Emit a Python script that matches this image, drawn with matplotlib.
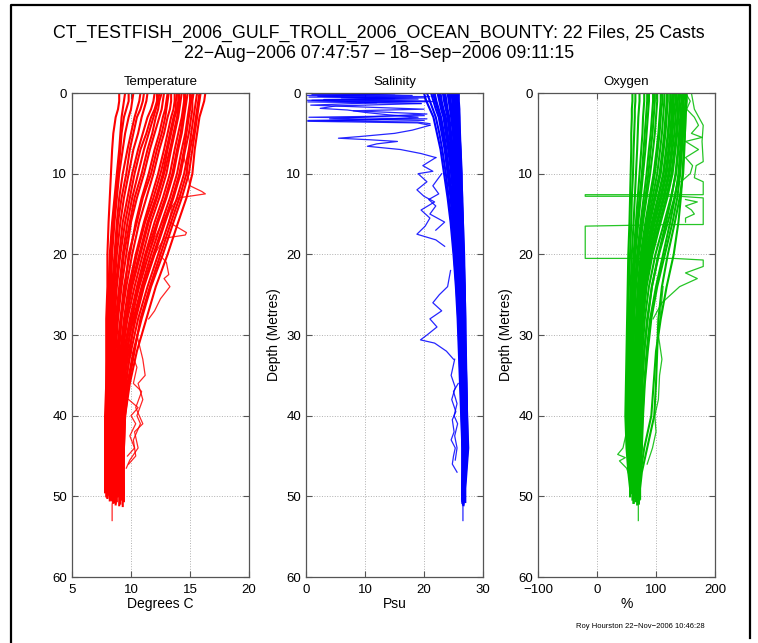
import matplotlib
matplotlib.use('Agg')
import matplotlib.pyplot as plt
from matplotlib.lines import Line2D

plt.rcParams['font.family'] = ['Liberation Sans', 'DejaVu Sans']

# depth levels (m) shared by the main casts
depth = [0, 1, 2, 3, 5, 7, 10, 13, 16, 20, 24, 28, 32, 36, 40, 44, 47, 49]

# ---- temperature (deg C) ----
temp_casts = [
    [9.0, 9.0, 8.9, 8.7, 8.5, 8.4, 8.3, 8.2, 8.1, 8.0, 8.0, 7.9, 7.9, 7.9, 7.8, 7.8, 7.8, 7.8],
    [9.5, 9.4, 9.3, 9.2, 9.1, 9.0, 8.8, 8.6, 8.4, 8.2, 8.1, 8.0, 8.0, 7.9, 7.9, 7.9, 7.9, 7.9],
    [10.2, 10.1, 10.0, 9.8, 9.5, 9.3, 9.0, 8.8, 8.6, 8.4, 8.3, 8.2, 8.1, 8.0, 8.0, 8.0, 8.0, 8.0],
    [10.8, 10.7, 10.5, 10.3, 10.0, 9.7, 9.3, 9.0, 8.8, 8.6, 8.4, 8.3, 8.2, 8.1, 8.1, 8.0, 8.0, 8.1],
    [11.4, 11.3, 11.1, 10.9, 10.6, 10.2, 9.8, 9.4, 9.1, 8.8, 8.6, 8.4, 8.3, 8.2, 8.2, 8.1, 8.1, 8.2],
    [12.0, 11.9, 11.7, 11.4, 11.0, 10.6, 10.1, 9.7, 9.3, 9.0, 8.7, 8.5, 8.4, 8.3, 8.2, 8.2, 8.2, 8.3],
    [12.4, 12.3, 12.1, 11.9, 11.5, 11.1, 10.6, 10.1, 9.7, 9.3, 9.0, 8.7, 8.5, 8.4, 8.3, 8.3, 8.3, 8.4],
    [12.8, 12.7, 12.6, 12.4, 12.0, 11.6, 11.1, 10.5, 10.0, 9.6, 9.2, 8.9, 8.7, 8.5, 8.4, 8.4, 8.4, 8.5],
    [13.1, 13.0, 12.9, 12.7, 12.4, 12.0, 11.5, 10.9, 10.4, 9.9, 9.4, 9.1, 8.8, 8.6, 8.5, 8.5, 8.5, 8.5],
    [13.4, 13.4, 13.3, 13.1, 12.8, 12.4, 11.9, 11.3, 10.7, 10.1, 9.6, 9.2, 8.9, 8.7, 8.6, 8.5, 8.5, 8.6],
    [13.7, 13.7, 13.6, 13.4, 13.1, 12.8, 12.3, 11.7, 11.1, 10.4, 9.8, 9.4, 9.1, 8.8, 8.7, 8.6, 8.6, 8.7],
    [14.0, 14.0, 13.9, 13.7, 13.4, 13.1, 12.7, 12.1, 11.4, 10.7, 10.0, 9.5, 9.2, 8.9, 8.8, 8.7, 8.7, 8.8],
    [14.3, 14.2, 14.1, 14.0, 13.7, 13.4, 13.0, 12.4, 11.7, 11.0, 10.3, 9.7, 9.3, 9.0, 8.9, 8.8, 8.8, 8.9],
    [14.5, 14.5, 14.4, 14.3, 14.0, 13.7, 13.3, 12.7, 12.0, 11.2, 10.5, 9.9, 9.4, 9.1, 9.0, 8.9, 8.9, 9.0],
    [14.8, 14.7, 14.6, 14.5, 14.3, 14.0, 13.6, 13.0, 12.3, 11.5, 10.7, 10.0, 9.5, 9.2, 9.0, 9.0, 9.0, 9.1],
    [15.0, 15.0, 14.9, 14.8, 14.6, 14.3, 13.9, 13.3, 12.6, 11.7, 10.9, 10.2, 9.6, 9.3, 9.1, 9.1, 9.1, 9.2],
    [15.3, 15.2, 15.2, 15.1, 14.9, 14.6, 14.2, 13.6, 12.9, 12.0, 11.1, 10.4, 9.8, 9.4, 9.2, 9.2, 9.2, 9.3],
    [15.6, 15.5, 15.4, 15.3, 15.1, 14.9, 14.5, 13.9, 13.2, 12.3, 11.4, 10.6, 10.0, 9.5, 9.3, 9.3, 9.3, 9.3],
    [15.9, 15.8, 15.7, 15.6, 15.4, 15.2, 14.9, 14.3, 13.6, 12.7, 11.7, 10.9, 10.2, 9.7, 9.4, 9.3, 9.3, 9.4],
    [16.3, 16.2, 16.0, 15.8, 15.6, 15.4, 15.2, 14.7, 14.0, 13.1, 12.1, 11.3, 10.5, 9.9, 9.5, 9.4, 9.4, 9.4],
    [9.8, 9.8, 9.6, 9.4, 9.2, 9.1, 8.9, 8.7, 8.5, 8.3, 8.2, 8.1, 8.0, 8.0, 7.9, 7.9, 8.0, 8.0],
    [11.1, 11.0, 10.8, 10.5, 10.2, 9.9, 9.6, 9.2, 8.9, 8.7, 8.5, 8.4, 8.3, 8.2, 8.1, 8.1, 8.1, 8.2],
    [12.2, 12.2, 12.0, 11.7, 11.3, 10.8, 10.3, 9.9, 9.5, 9.1, 8.8, 8.6, 8.5, 8.4, 8.3, 8.2, 8.3, 8.3],
    [13.2, 13.1, 13.0, 12.9, 12.6, 12.2, 11.7, 11.0, 10.5, 9.8, 9.5, 9.2, 9.0, 8.8, 8.6, 8.6, 8.6, 8.6],
    [13.9, 13.8, 13.8, 13.6, 13.3, 13.0, 12.5, 11.9, 11.2, 10.5, 9.9, 9.6, 9.3, 9.0, 8.9, 8.8, 8.8, 8.8],
    [14.6, 14.6, 14.5, 14.4, 14.2, 13.9, 13.5, 12.9, 12.2, 11.3, 10.6, 10.1, 9.7, 9.4, 9.2, 9.1, 9.0, 9.0],
    [15.2, 15.1, 15.0, 14.9, 14.7, 14.5, 14.1, 13.5, 12.8, 11.9, 11.0, 10.3, 9.9, 9.6, 9.4, 9.3, 9.2, 9.2],
    [15.8, 15.7, 15.6, 15.5, 15.3, 15.0, 14.7, 14.1, 13.4, 12.5, 11.6, 10.8, 10.3, 9.8, 9.5, 9.4, 9.3, 9.3],
    [12.6, 12.4, 12.3, 12.1, 11.8, 11.4, 10.9, 10.3, 9.9, 9.4, 9.1, 8.8, 8.6, 8.5, 8.4, 8.3, 8.3, 8.4],
    [14.1, 14.1, 14.0, 13.9, 13.6, 13.3, 12.8, 12.2, 11.5, 10.8, 10.1, 9.6, 9.2, 9.0, 8.8, 8.7, 8.7, 8.7],
]
temp_bottom = [49.5, 50.0, 50.2, 49.8, 50.5, 49.6, 50.1, 50.8, 49.9, 50.3, 51.0, 50.6, 50.0, 49.7, 50.9,
               50.4, 51.2, 50.2, 49.8, 50.6, 50.1, 49.9, 50.4, 50.7, 50.0, 51.1, 50.3, 49.6, 50.5, 50.8]
temp_extra_d = [
    [8, 10, 11.5, 12.2, 12.5, 13, 15, 18, 22],
    [14, 16, 17.3, 17.6, 18, 20],
    [20, 21, 22.5, 23, 24, 25.5, 27, 28],
    [30, 33, 35, 36, 38, 40, 41, 43, 45, 46],
    [32, 34, 36, 37, 39, 41, 42, 44, 45.5, 46.5],
    [38, 39, 40, 41, 42.5, 44, 45],
    [48, 50, 51, 53],
]
temp_extra_v = [
    [14.5, 14.8, 15.0, 16.0, 16.3, 14.0, 13.0, 12.0, 11.0],
    [13.5, 13.2, 14.7, 14.6, 12.8, 12.0],
    [12.4, 13.0, 13.2, 12.8, 13.3, 12.5, 12.0, 11.5],
    [10.5, 11.0, 11.2, 10.6, 11.0, 10.5, 10.8, 10.2, 10.4, 9.8],
    [10.0, 10.5, 10.2, 10.9, 10.4, 11.0, 10.3, 10.6, 9.9, 9.6],
    [9.8, 10.6, 10.0, 10.4, 9.9, 10.3, 9.7],
    [8.6, 8.5, 8.4, 8.4],
]

# ---- salinity (psu) ----
sal_casts = [
    [25.9, 25.9, 26.0, 26.0, 26.1, 26.2, 26.3, 26.5, 26.6, 26.8, 26.9, 27.0, 27.1, 27.2, 27.3, 27.4, 27.1, 26.9],
    [25.7, 25.8, 25.8, 25.9, 26.0, 26.1, 26.2, 26.4, 26.5, 26.7, 26.8, 26.9, 27.0, 27.1, 27.2, 27.3, 27.0, 26.9],
    [25.5, 25.5, 25.6, 25.7, 25.8, 25.9, 26.1, 26.3, 26.4, 26.6, 26.7, 26.8, 26.9, 27.0, 27.1, 27.2, 27.0, 26.8],
    [25.2, 25.3, 25.4, 25.5, 25.6, 25.8, 26.0, 26.2, 26.3, 26.5, 26.6, 26.7, 26.8, 26.9, 27.0, 27.1, 26.9, 26.8],
    [25.0, 25.1, 25.2, 25.3, 25.5, 25.7, 25.9, 26.1, 26.2, 26.4, 26.5, 26.6, 26.8, 26.9, 27.0, 27.0, 26.9, 26.8],
    [24.7, 24.8, 24.9, 25.1, 25.3, 25.5, 25.7, 25.9, 26.1, 26.3, 26.4, 26.6, 26.7, 26.8, 26.9, 27.0, 26.8, 26.7],
    [24.4, 24.5, 24.7, 24.9, 25.1, 25.3, 25.6, 25.8, 26.0, 26.2, 26.3, 26.5, 26.6, 26.7, 26.8, 26.9, 26.8, 26.7],
    [24.0, 24.2, 24.4, 24.6, 24.9, 25.1, 25.4, 25.7, 25.9, 26.1, 26.3, 26.4, 26.6, 26.7, 26.8, 26.9, 26.8, 26.7],
    [23.6, 23.8, 24.0, 24.3, 24.6, 24.9, 25.2, 25.5, 25.8, 26.0, 26.2, 26.4, 26.5, 26.6, 26.7, 26.8, 26.7, 26.6],
    [23.2, 23.4, 23.7, 24.0, 24.3, 24.6, 25.0, 25.4, 25.7, 25.9, 26.1, 26.3, 26.5, 26.6, 26.7, 26.8, 26.7, 26.6],
    [22.8, 23.0, 23.3, 23.7, 24.0, 24.4, 24.8, 25.2, 25.5, 25.8, 26.0, 26.2, 26.4, 26.5, 26.6, 26.7, 26.7, 26.6],
    [22.3, 22.6, 22.9, 23.3, 23.7, 24.1, 24.6, 25.0, 25.3, 25.7, 25.9, 26.1, 26.3, 26.4, 26.6, 26.7, 26.6, 26.6],
    [21.8, 22.1, 22.5, 22.9, 23.4, 23.8, 24.3, 24.8, 25.1, 25.5, 25.8, 26.0, 26.2, 26.4, 26.5, 26.6, 26.6, 26.5],
    [21.2, 21.6, 22.0, 22.5, 23.0, 23.5, 24.0, 24.5, 24.9, 25.3, 25.6, 25.9, 26.1, 26.3, 26.4, 26.6, 26.6, 26.5],
    [20.5, 21.0, 21.5, 22.0, 22.6, 23.1, 23.7, 24.2, 24.7, 25.1, 25.5, 25.8, 26.0, 26.2, 26.4, 26.5, 26.5, 26.5],
    [20.0, 20.4, 21.0, 21.6, 22.2, 22.8, 23.4, 24.0, 24.5, 25.0, 25.4, 25.7, 25.9, 26.1, 26.3, 26.5, 26.5, 26.5],
    [25.8, 25.7, 25.9, 26.0, 26.0, 26.2, 26.4, 26.4, 26.6, 26.7, 26.9, 27.0, 27.0, 27.2, 27.3, 27.5, 27.2, 27.0],
    [25.4, 25.4, 25.6, 25.6, 25.8, 26.0, 26.1, 26.2, 26.4, 26.6, 26.8, 26.8, 27.0, 27.1, 27.2, 27.3, 27.0, 26.9],
    [25.1, 25.2, 25.3, 25.4, 25.7, 25.8, 26.0, 26.2, 26.4, 26.5, 26.7, 26.7, 26.9, 27.0, 27.1, 27.1, 26.9, 26.8],
    [24.8, 24.9, 25.1, 25.2, 25.4, 25.6, 25.8, 26.0, 26.2, 26.4, 26.6, 26.7, 26.8, 26.9, 27.0, 27.0, 26.9, 26.7],
    [24.2, 24.4, 24.6, 24.8, 25.0, 25.2, 25.5, 25.8, 26.0, 26.2, 26.4, 26.5, 26.7, 26.8, 26.9, 26.9, 26.8, 26.7],
    [23.4, 23.6, 23.9, 24.1, 24.5, 24.8, 25.1, 25.5, 25.8, 26.0, 26.2, 26.4, 26.5, 26.7, 26.8, 26.8, 26.7, 26.6],
    [22.5, 22.8, 23.1, 23.5, 23.9, 24.3, 24.7, 25.1, 25.4, 25.8, 26.0, 26.2, 26.4, 26.5, 26.6, 26.7, 26.6, 26.6],
    [21.5, 21.9, 22.3, 22.7, 23.2, 23.7, 24.2, 24.6, 25.0, 25.4, 25.7, 26.0, 26.2, 26.3, 26.5, 26.6, 26.6, 26.5],
]
sal_bottom = [50.2, 49.8, 50.6, 50.0, 49.5, 50.9, 50.3, 49.7, 50.5, 51.0, 50.1, 49.6, 50.4, 50.8, 49.9,
              50.2, 50.7, 50.0, 49.8, 50.5, 51.1, 50.3, 49.9, 50.6]
sal_extra_d = [
    [0.0, 0.2, 0.3, 0.5, 0.6, 0.8, 1.0, 1.1, 1.3],
    [0.1, 0.3, 0.45, 0.6, 0.75, 0.9, 1.05, 1.2],
    [0.0, 0.4, 0.7, 0.9, 1.2, 1.5, 2.0, 2.2, 2.6, 3.2, 3.4],
    [1.3, 1.6, 1.9, 2.1, 2.4, 2.7, 3.0, 3.3, 3.5, 3.7, 4.0],
    [2.8, 3.0, 3.2, 3.4, 3.6, 3.8],
    [4.0, 4.6, 5.0, 5.4, 5.6, 5.8, 6.0, 6.3, 6.6, 7.0, 7.5, 8.0],
    [8, 9, 9.7, 10, 11, 12, 12.8, 13.5, 14.5, 15.5, 16.5, 17.5, 18.2, 19],
    [10, 11.5, 12.5, 13.2, 14, 15, 16, 17],
    [22, 24, 25, 26, 27, 28, 29, 30, 30.6, 31, 32, 33],
    [33, 35, 36.5, 38, 39.5, 40.5, 42, 43, 44, 45, 46, 47],
    [36, 37, 38.5, 40, 41, 42.5, 44, 45.5],
    [48, 50, 51.5, 53],
]
sal_extra_v = [
    [22.0, 1.0, 18.0, 0.5, 20.0, 3.0, 21.0, 0.3, 19.5],
    [15.0, 0.2, 21.0, 6.0, 19.0, 0.2, 22.0, 10.0],
    [18.0, 2.0, 15.0, 1.0, 12.0, 0.8, 20.0, 8.0, 20.5, 4.0, 20.0],
    [19.5, 5.0, 2.4, 7.0, 10.0, 14.0, 19.0, 12.0, 0.3, 18.9, 21.0],
    [20.0, 0.5, 20.5, 0.3, 19.0, 21.0],
    [21.0, 18.0, 15.0, 9.0, 5.5, 11.0, 15.5, 12.0, 10.4, 16.0, 19.5, 22.0],
    [22.0, 19.8, 21.5, 19.0, 20.5, 18.8, 20.0, 21.8, 19.5, 21.0, 20.2, 18.8, 22.0, 23.5],
    [23.0, 21.5, 22.5, 20.8, 22.0, 21.0, 23.5, 22.0],
    [24.5, 24.0, 22.6, 21.5, 23.0, 21.0, 22.2, 20.5, 19.4, 21.8, 23.8, 25.0],
    [25.2, 24.6, 25.3, 24.7, 25.4, 24.8, 25.1, 24.6, 25.3, 25.0, 24.8, 25.6],
    [25.8, 25.0, 25.6, 25.1, 25.7, 25.2, 25.6, 25.3],
    [26.7, 26.6, 26.6, 26.6],
]

# ---- oxygen (%) ----
oxy_casts = [
    [60, 60, 59, 59, 58, 58, 57, 56, 55, 53, 52, 51, 50, 49, 48, 50, 53, 56],
    [65, 65, 64, 64, 63, 62, 61, 59, 58, 56, 54, 53, 52, 51, 50, 52, 55, 58],
    [72, 72, 71, 70, 69, 68, 66, 64, 62, 59, 57, 55, 54, 53, 52, 54, 57, 60],
    [80, 80, 79, 78, 77, 75, 72, 69, 66, 62, 59, 57, 56, 55, 54, 56, 59, 62],
    [88, 88, 87, 86, 84, 82, 78, 74, 70, 65, 62, 59, 58, 57, 56, 58, 61, 63],
    [95, 95, 94, 93, 91, 88, 84, 79, 74, 68, 64, 61, 60, 59, 58, 60, 62, 64],
    [102, 102, 101, 100, 98, 95, 90, 84, 78, 71, 66, 63, 62, 61, 60, 61, 63, 65],
    [108, 108, 107, 106, 104, 101, 96, 89, 82, 74, 69, 66, 64, 63, 62, 63, 65, 66],
    [114, 114, 113, 112, 110, 107, 102, 94, 86, 77, 71, 68, 66, 65, 64, 65, 66, 67],
    [120, 120, 119, 118, 116, 113, 108, 99, 90, 80, 74, 70, 68, 67, 66, 66, 67, 68],
    [125, 125, 124, 123, 121, 118, 113, 104, 94, 83, 76, 72, 70, 69, 68, 68, 68, 69],
    [130, 130, 129, 128, 126, 123, 118, 109, 98, 86, 78, 74, 72, 71, 70, 69, 69, 70],
    [135, 135, 134, 133, 131, 128, 123, 114, 103, 90, 81, 76, 73, 72, 71, 70, 70, 70],
    [140, 140, 139, 138, 136, 133, 128, 119, 108, 94, 84, 78, 75, 73, 72, 71, 71, 71],
    [145, 145, 144, 143, 141, 138, 134, 125, 114, 99, 88, 81, 77, 75, 74, 73, 72, 72],
    [150, 150, 149, 148, 146, 144, 140, 131, 120, 105, 93, 85, 80, 77, 76, 75, 73, 72],
    [148, 147, 147, 146, 145, 143, 141, 136, 128, 115, 102, 92, 86, 81, 78, 76, 74, 72],
    [142, 143, 141, 141, 139, 137, 133, 126, 117, 104, 93, 86, 80, 76, 74, 73, 72, 71],
    [138, 137, 137, 136, 134, 131, 126, 117, 106, 92, 83, 78, 74, 72, 71, 70, 70, 70],
    [132, 133, 131, 130, 128, 126, 121, 112, 101, 88, 80, 75, 72, 70, 69, 68, 68, 69],
    [128, 127, 127, 126, 124, 121, 116, 107, 96, 84, 77, 73, 71, 69, 67, 67, 67, 68],
    [118, 118, 117, 116, 114, 111, 106, 97, 88, 79, 73, 69, 67, 66, 65, 65, 66, 67],
    [110, 111, 109, 108, 106, 103, 98, 91, 84, 76, 70, 67, 65, 64, 63, 64, 65, 66],
    [98, 98, 97, 96, 94, 91, 87, 82, 76, 70, 65, 62, 61, 60, 59, 60, 62, 64],
    [85, 85, 84, 83, 81, 79, 76, 72, 68, 64, 61, 58, 57, 56, 55, 57, 60, 62],
    [146, 146, 145, 145, 143, 141, 138, 132, 124, 112, 100, 90, 84, 80, 77, 75, 73, 72],
    [124, 124, 123, 122, 120, 117, 112, 103, 93, 82, 75, 71, 69, 68, 67, 67, 67, 68],
    [150, 151, 150, 150, 149, 147, 145, 142, 138, 130, 118, 108, 100, 96, 92, 80, 74, 72],
    [152, 152, 151, 150, 149, 148, 146, 140, 132, 120, 110, 104, 102, 100, 97, 85, 76, 73],
]
oxy_bottom = [50.0, 49.6, 50.4, 50.8, 49.8, 50.2, 50.6, 49.9, 50.3, 51.0, 50.1, 49.7, 50.5, 50.9, 50.0,
              50.4, 49.8, 50.7, 50.2, 49.9, 50.6, 50.3, 49.5, 50.1, 50.8, 50.0, 50.5, 49.8, 50.3]
oxy_extra_d = [
    [0, 2, 4, 6, 8.5, 9, 10.5, 11, 12.6, 12.6, 12.8, 12.8, 13.0, 16.3, 16.3, 16.5, 20.5, 20.5,
     20.7, 21.5, 22.3, 23.0, 24.0, 26.0, 28.0],
    [0, 1, 2, 3, 4, 5, 5.5, 6, 7, 8, 9, 10, 11],
    [13.2, 13.5, 14, 14.5, 15, 15.5, 16.0],
    [24, 27, 30, 33, 35, 38, 40, 42, 44, 46],
    [42, 44, 44.8, 45.2, 45.6, 46.5, 47.5],
    [48, 50, 51.5, 53],
]
oxy_extra_v = [
    [160, 165, 180, 178, 180, 168, 165, 180, 180, -20, -20, 140, 180, 180, 130, -20, -20, 130,
     180, 180, 150, 170, 140, 110, 95],
    [150, 158, 152, 165, 172, 160, 178, 150, 172, 150, 162, 158, 142],
    [150, 170, 150, 160, 165, 150, 150],
    [112, 108, 104, 110, 106, 104, 98, 100, 94, 85],
    [50, 44, 35, 48, 38, 50, 55],
    [71, 70, 70, 70],
]

panels = [
    ('Temperature', 'Degrees C', [5, 20], [5, 10, 15, 20], '#ff0000',
     temp_casts, temp_bottom, temp_extra_d, temp_extra_v, False),
    ('Salinity', 'Psu', [0, 30], [0, 10, 20, 30], '#0000ff',
     sal_casts, sal_bottom, sal_extra_d, sal_extra_v, True),
    ('Oxygen', '%', [-100, 200], [-100, 0, 100, 200], '#00bb00',
     oxy_casts, oxy_bottom, oxy_extra_d, oxy_extra_v, True),
]
lefts = [0.095, 0.4037, 0.7098]

fig = plt.figure(figsize=(7.58, 6.43), dpi=100)

for left, (title, xlab, xlim, xticks, col, casts, bots, ed, ev, ylab) in zip(lefts, panels):
    ax = fig.add_axes([left, 0.1026, 0.2335, 0.7527])
    for vals, bot in zip(casts, bots):
        ax.plot(vals + [vals[-1]], depth + [bot], color=col, lw=1.5)
    for d, v in zip(ed, ev):
        ax.plot(v, d, color=col, lw=0.9, alpha=0.85)
    ax.set_xlim(xlim)
    ax.set_ylim(60, 0)
    ax.set_xticks(xticks)
    ax.set_yticks([0, 10, 20, 30, 40, 50, 60])
    ax.grid(True, linestyle=':', color='#b0b0b0', lw=0.7)
    ax.tick_params(direction='in', top=True, right=True, labelsize=9.5, length=4, color='#555555')
    ax.tick_params(axis='x', pad=5)
    for s in ax.spines.values():
        s.set_color('#555555')
        s.set_linewidth(0.9)
    ax.set_title(title, fontsize=9.5, pad=6)
    ax.set_xlabel(xlab, fontsize=10, labelpad=1)
    if ylab:
        ax.set_ylabel('Depth (Metres)', fontsize=10)

fig.text(0.5, 0.948, 'CT_TESTFISH_2006_GULF_TROLL_2006_OCEAN_BOUNTY: 22 Files, 25 Casts',
         ha='center', va='center', fontsize=12.8)
fig.text(0.5, 0.917, '22\u2212Aug\u22122006 07:47:57 \u2013 18\u2212Sep\u22122006 09:11:15',
         ha='center', va='center', fontsize=12.8)
fig.text(0.845, 0.025, 'Roy Hourston 22\u2212Nov\u22122006 10:46:28', ha='center', va='center', fontsize=5.5)

fig.add_artist(Line2D([0.0145, 0.0145, 0.9894, 0.9894], [0.0, 0.992, 0.992, 0.008],
                      transform=fig.transFigure, color='black', lw=1.6))

fig.savefig('out.png', dpi=100)
